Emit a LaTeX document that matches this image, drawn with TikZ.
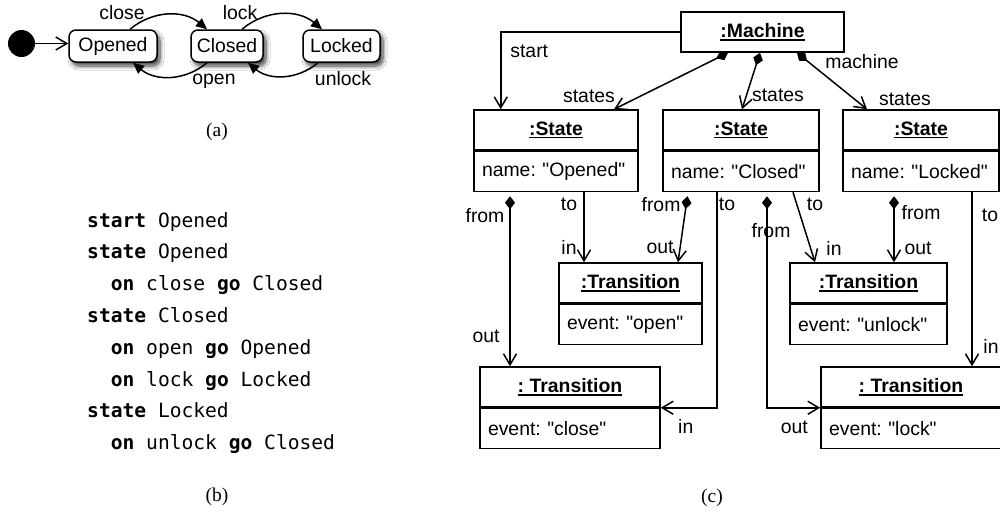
\documentclass[tikz,border=0pt]{standalone}
\usepackage{fontspec}
\setmainfont{Liberation Serif}
\newfontfamily\umlfamily{Liberation Sans}
\newfontfamily\codefamily{DejaVu Sans Mono}
\usetikzlibrary{arrows.meta,positioning,calc,shadows.blur}
\newcommand\umltext{\umlfamily\fontsize{19.4}{23}\selectfont}
\newcommand\codetext{\codefamily\fontsize{19.6}{24}\selectfont}
\newcommand\captext{\fontsize{19.5}{23}\selectfont}
\newcommand\objname[1]{\setbox0\hbox{#1}\rlap{\rule[-3pt]{\wd0}{1.4pt}}\box0}
\frenchspacing

\tikzset{
  fsm/.style={draw, line width=1.5pt, rounded corners=7pt, fill=white, minimum height=32pt,
    inner sep=0pt, font=\umltext,
    blur shadow={shadow xshift=3pt, shadow yshift=-4pt, shadow blur radius=4pt,
      shadow blur steps=8, shadow opacity=75}},
  fsmlbl/.style={font=\umltext, inner sep=0pt},
  trans/.style={line width=1.5pt, -{Triangle[length=11pt,width=10pt]}},
  objhead/.style={draw, line width=1.5pt, minimum height=40pt, inner sep=0pt, font=\umltext\bfseries},
  objbody/.style={draw, line width=1.5pt, minimum height=40pt, inner xsep=8pt, inner ysep=0pt,
    font=\umltext, anchor=north, align=left},
  lbl/.style={font=\umltext, inner sep=0pt},
  link/.style={line width=1.5pt, -{Straight Barb[length=11pt,width=13pt]}},
  owner/.style={line width=1.5pt, {Diamond[length=13pt,width=10pt]}-{Straight Barb[length=11pt,width=13pt]}},
  code/.style={anchor=base west, inner sep=0pt, font=\codetext},
}

\begin{document}
\begin{tikzpicture}[x=1pt, y=-1pt]
  \clip (0,0) rectangle (1000,512);
  \fill[white] (0,0) rectangle (1000,512);

  % (a) state machine
  \node[circle, fill, minimum size=27pt, inner sep=0pt] (init) at (21.5,43.5) {};
  \node[fsm, minimum width=88pt] (opened) at (113,46) {Opened};
  \node[fsm, minimum width=72pt] (closed) at (227,46) {Closed};
  \node[fsm, minimum width=77pt] (locked) at (341.5,46) {Locked};
  \draw[link] (init) -- (init -| opened.west);
  \draw[trans] ([xshift=17pt]opened.north) to[bend left=40]
    node[fsmlbl, at start, shift={(-8,-17)}] {close} ([xshift=-20pt]closed.north);
  \draw[trans] ([xshift=15pt]closed.north) to[bend left=40]
    node[fsmlbl, at start, shift={(-2,-17)}] {lock} ([xshift=-19.5pt]locked.north);
  \draw[trans] ([xshift=-20pt]closed.south) to[bend left=40]
    node[fsmlbl, at start, shift={(7,19)}] {open} ([xshift=20pt]opened.south);
  \draw[trans] ([xshift=-23.5pt]locked.south) to[bend left=40]
    node[fsmlbl, at start, shift={(25,16)}] {unlock} ([xshift=21pt]closed.south);
  \node[font=\captext] (capa) at (217,132) {(a)};

  % (b) textual syntax
  \foreach \ind/\txt [count=\i] in {
      0/{\textbf{start} Opened},
      0/{\textbf{state} Opened},
      2/{\textbf{on} close \textbf{go} Closed},
      0/{\textbf{state} Closed},
      2/{\textbf{on} open \textbf{go} Opened},
      2/{\textbf{on} lock \textbf{go} Locked},
      0/{\textbf{state} Locked},
      2/{\textbf{on} unlock \textbf{go} Closed}}
    \node[code] (line\i) at (87+11.8*\ind, 195.2+31.8*\i) {\txt};
  \node[font=\captext] (capb) at (217,497) {(b)};

  % (c) object diagram
  \node[objhead, minimum width=163pt] (mach) at (762.5,32) {\objname{:Machine}};

  \node[objhead, minimum width=164pt] (s1h) at (556,130) {\objname{:State}};
  \node[objbody, text width=148pt] (s1b) at (s1h.south) {name: "Opened"};
  \node[objhead, minimum width=156pt] (s2h) at (741,130) {\objname{:State}};
  \node[objbody, text width=140pt] (s2b) at (s2h.south) {name: "Closed"};
  \node[objhead, minimum width=156pt] (s3h) at (921,130) {\objname{:State}};
  \node[objbody, text width=140pt] (s3b) at (s3h.south) {name: "Locked"};

  \node[objhead, minimum width=143pt] (topenh) at (630.5,283) {\objname{:Transition}};
  \node[objbody, text width=127pt] (topenb) at (topenh.south) {event: "open"};
  \node[objhead, minimum width=157pt] (tunlockh) at (868.5,283) {\objname{:Transition}};
  \node[objbody, text width=141pt] (tunlockb) at (tunlockh.south) {event: "unlock"};
  \node[objhead, minimum width=180pt] (tcloseh) at (570,387) {\objname{: Transition}};
  \node[objbody, text width=164pt] (tcloseb) at (tcloseh.south) {event: "close"};
  \node[objhead, minimum width=180pt] (tlockh) at (911,387) {\objname{: Transition}};
  \node[objbody, text width=164pt] (tlockb) at (tlockh.south) {event: "lock"};

  \draw[link] (mach.west) -| ([xshift=27.5pt]s1h.north west)
    node[lbl, at end, shift={(28.5,-58)}] {start};
  \draw[owner] ([xshift=-34.5pt]mach.south) -- ([xshift=58pt]s1h.north)
    node[lbl, at end, shift={(-25,-13)}] {states};
  \draw[owner] ([xshift=-2.5pt]mach.south) -- ([xshift=1pt]s2h.north)
    node[lbl, at end, shift={(36,-14)}] {states};
  \draw[owner] ([xshift=34.5pt]mach.south) -- ([xshift=-54pt]s3h.north)
    node[lbl, at start, shift={(65,9)}] {machine}
    node[lbl, at end, shift={(38,-10)}] {states};

  \draw[owner, shorten <=4pt] ([xshift=-46pt]s1b.south) -- ([xshift=-46pt]s1b.south |- tcloseh.north)
    node[lbl, at start, shift={(-25,23)}] {from}
    node[lbl, at end, shift={(-24,-30)}] {out};
  \draw[link] ([xshift=28pt]s1b.south) -- ([xshift=28pt]s1b.south |- topenh.north)
    node[lbl, at start, shift={(-15,12)}] {to}
    node[lbl, at end, shift={(-15,-15)}] {in};
  \draw[owner, shorten <=4pt] ([xshift=-53pt]s2b.south) -- ([xshift=47.5pt]topenh.north)
    node[lbl, at start, shift={(-27,12)}] {from}
    node[lbl, at end, shift={(-18,-15)}] {out};
  \draw[link] ([xshift=-24pt]s2b.south) |- (tcloseh.south east)
    node[lbl, at start, shift={(10,12)}] {to}
    node[lbl, at end, shift={(25,19)}] {in};
  \draw[owner, shorten <=4pt] ([xshift=26pt]s2b.south) |- (tlockh.south west)
    node[lbl, at start, shift={(4,38)}] {from}
    node[lbl, at end, shift={(-26,20)}] {out};
  \draw[link] ([xshift=52pt]s2b.south) -- ([xshift=-53.5pt]tunlockh.north)
    node[lbl, at start, shift={(22,12)}] {to}
    node[lbl, at end, shift={(19,-14)}] {in};
  \draw[owner, shorten <=4pt] ([xshift=-27pt]s3b.south) -- ([xshift=-27pt]s3b.south |- tunlockh.north)
    node[lbl, at start, shift={(27,20)}] {from}
    node[lbl, at end, shift={(24,-14)}] {out};
  \draw[link] ([xshift=51pt]s3b.south) -- ([xshift=51pt]s3b.south |- tlockh.north)
    node[lbl, at start, shift={(18,23)}] {to}
    node[lbl, at end, shift={(19,-20)}] {in};
  \node[font=\captext] (capc) at (712,498) {(c)};
\end{tikzpicture}
\end{document}
